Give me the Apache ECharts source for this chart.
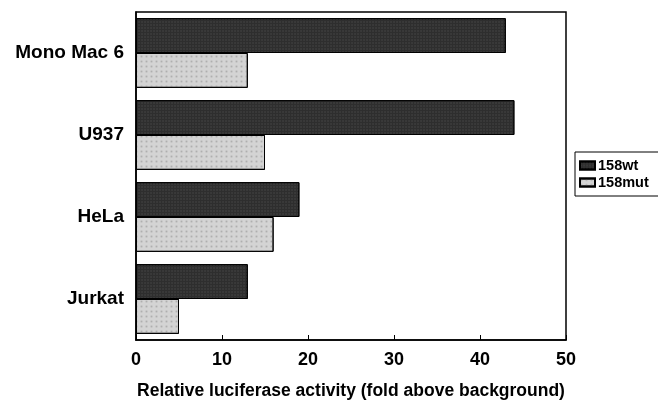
<!DOCTYPE html>
<html><head><meta charset="utf-8">
<script src="https://cdn.jsdelivr.net/npm/echarts@6/dist/echarts.min.js"></script>
<style>html,body{margin:0;padding:0;background:#fff}#c{width:658px;height:405px}</style>
</head><body><div id="c"></div>
<script>
const categories = ['Mono Mac 6', 'U937', 'HeLa', 'Jurkat'];
const wt = [43, 44, 19, 13];
const mut = [13, 15, 16, 5];
const xTicks = [0, 10, 20, 30, 40, 50];

const chart = echarts.init(document.getElementById('c'), null, {renderer: 'canvas'});
const font = '"Liberation Sans", Arial, sans-serif';
chart.setOption({
  animation: false,
  backgroundColor: '#fff',
  grid: {left: 136, right: 92, top: 12, bottom: 62, show: true, borderColor: '#000', borderWidth: 1.5, backgroundColor: 'transparent'},
  legend: {
    left: 575, top: 152, orient: 'vertical', itemWidth: 15, itemHeight: 8, itemGap: 2,
    icon: 'rect',
    borderColor: '#000', borderWidth: 1, padding: [6, 24, 6, 4],
    textStyle: {fontFamily: font, fontWeight: 'bold', fontSize: 14.5, color: '#000', padding: [0, 0, 0, -2]},
    data: ['158wt', '158mut']
  },
  xAxis: {
    type: 'value', min: xTicks[0], max: xTicks[xTicks.length - 1], interval: 10,
    axisLine: {show: true, lineStyle: {color: '#000', width: 1.5}},
    axisTick: {show: true, inside: true, length: 5, lineStyle: {color: '#000'}},
    splitLine: {show: false},
    axisLabel: {fontFamily: font, fontWeight: 'bold', fontSize: 18, color: '#000', margin: 11},
    name: 'Relative luciferase activity (fold above background)',
    nameLocation: 'middle', nameGap: 42,
    nameTextStyle: {fontFamily: font, fontWeight: 'bold', fontSize: 17.5, color: '#000'}
  },
  yAxis: {
    type: 'category', data: categories, inverse: true,
    axisLine: {show: true, lineStyle: {color: '#000', width: 1.5}},
    axisTick: {show: false},
    axisLabel: {fontFamily: font, fontWeight: 'bold', fontSize: 19, color: '#000', margin: 12}
  },
  series: [
    {name: '158wt', type: 'bar', data: wt, barGap: '0%', barCategoryGap: '15%',
     itemStyle: {color: '#2e2e2e', borderColor: '#000', borderWidth: 1,
       decal: {symbol: 'rect', symbolSize: 0.6, dashArrayX: [2, 1], dashArrayY: [2, 1], color: 'rgba(120,120,120,0.5)', rotation: 0}}},
    {name: '158mut', type: 'bar', data: mut,
     itemStyle: {color: '#d4d4d4', borderColor: '#000', borderWidth: 1,
       decal: {symbol: 'rect', symbolSize: 0.6, dashArrayX: [3, 2], dashArrayY: [3, 2], color: 'rgba(150,150,150,0.6)', rotation: 0}}}
  ]
});
</script></body></html>
